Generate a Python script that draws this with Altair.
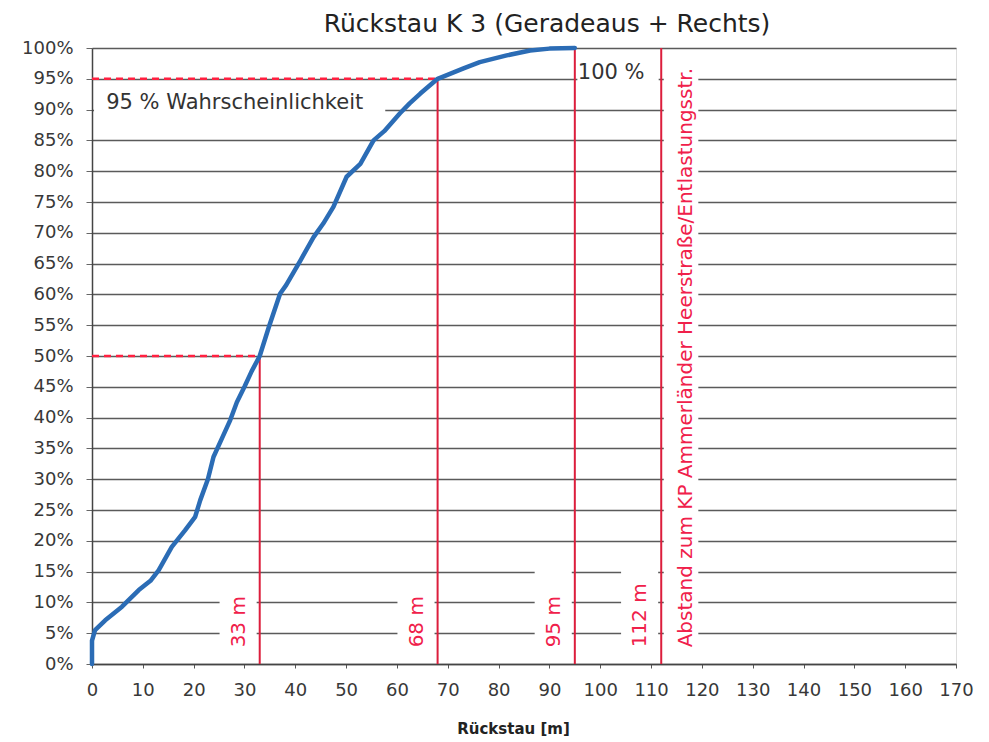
import altair as alt
import pandas as pd

# Cumulative distribution of the queue length (Rückstau)
queue_m = [0, 0, 0.6, 2.6, 5.9, 9.2, 11.5, 13.1, 15.7, 18.3, 20.3, 21.3, 22.8, 23.9,
           25.5, 27.2, 28.5, 30.0, 31.4, 33.0, 34.8, 37.0, 38.2, 41.0, 43.6, 45.5,
           47.5, 50.1, 52.8, 55.4, 57.5, 60.6, 62.5, 64.6, 68.0, 73.1, 76.3, 81.6,
           86.2, 90.0, 95.0]
share_pct = [0, 3.8, 5.5, 7.1, 9.3, 12.0, 13.5, 15.2, 19.0, 21.7, 23.9, 26.6, 30.0, 33.6,
             36.5, 39.6, 42.5, 45.0, 47.5, 50.0, 54.7, 60.1, 61.5, 65.5, 69.3, 71.5,
             74.2, 79.1, 81.2, 85.0, 86.5, 89.4, 91.0, 92.6, 95.0, 96.7, 97.7, 98.8,
             99.6, 99.9, 100.0]

# Reference distances (vertical markers)
marker_m = [33, 68, 95, 112]
marker_top = [50, 95, 100, 100]
marker_label = ["33 m", "68 m", "95 m", "112 m"]
marker_box_top = [13, 13, 16, 16]

# Dashed guides from the y axis to the curve
guide_level = [50, 95]
guide_end = [33, 68]

chart_title = "Rückstau K 3 (Geradeaus + Rechts)"
distance_note = "Abstand zum KP Ammerländer Heerstraße/Entlastungsstr."
prob_note = "95 % Wahrscheinlichkeit"
full_note = "100 %"

x_ticks = list(range(0, 171, 10))
y_ticks = list(range(0, 101, 5))

FONT = "DejaVu Sans"
RED_LINE = "#dc1e3c"
RED_TEXT = "#f0204a"
BLUE = "#2b6cb5"

xs = alt.Scale(domain=[0, 170], nice=False, zero=False)
ys = alt.Scale(domain=[0, 100], nice=False)

x_axis = alt.Axis(values=x_ticks, grid=False, tickSize=4, tickColor="#555",
                  domainColor="#444", domainWidth=1.5, labelFont=FONT,
                  labelFontSize=18, labelColor="#383838", labelPadding=13,
                  labelOverlap=False, labelFlush=False,
                  title="Rückstau [m]", titleFont=FONT, titleFontSize=15,
                  titleFontWeight="bold", titleColor="#222", titleX=421, titleY=69,
                  titleBaseline="alphabetic")
y_axis = alt.Axis(values=y_ticks, grid=True, gridColor="#5a5a5a", gridWidth=1.6,
                  tickSize=6, tickColor="#666", domainColor="#444", domainWidth=1.5,
                  labelFont=FONT, labelFontSize=18, labelColor="#383838",
                  labelPadding=13, labelExpr="datum.value + '%'", title=None,
                  labelOverlap=False, labelFlush=False)


def xq(field):
    return alt.X(field, type="quantitative", scale=xs, axis=x_axis)


def yq(field):
    return alt.Y(field, type="quantitative", scale=ys, axis=y_axis)


curve_df = pd.DataFrame({"m": queue_m, "p": share_pct})
marker_df = pd.DataFrame({"m": marker_m, "top": marker_top, "label": marker_label,
                          "bottom": [0] * len(marker_m),
                          "start": [2.7] * len(marker_m)})
guide_df = pd.DataFrame({"level": guide_level, "end": guide_end,
                         "start": [0] * len(guide_level)})

# White boxes behind the annotations (interrupt the grid lines)
box_x0 = [m - 7.9 for m in marker_m] + [112.5, 0.4, 95.5]
box_x1 = [m - 0.6 for m in marker_m] + [119.3, 57.7, 111.5]
box_y0 = [1.5] * len(marker_m) + [1.5, 88.6, 93.6]
box_y1 = marker_box_top + [97.5, 93.4, 98.3]
box_df = pd.DataFrame({"x0": box_x0, "x1": box_x1, "y0": box_y0, "y1": box_y1})

boxes = alt.Chart(box_df).mark_rect(color="white").encode(
    x=xq("x0"), x2="x1:Q", y=yq("y0"), y2="y1:Q")

verticals = alt.Chart(marker_df).mark_rule(color=RED_LINE, strokeWidth=2).encode(
    x=xq("m"), y=yq("bottom"), y2="top:Q")

guides = alt.Chart(guide_df).mark_rule(color="#ff2040", strokeWidth=2.5,
                                       strokeDash=[7, 5]).encode(
    x=xq("start"), x2="end:Q", y=yq("level"))

curve = alt.Chart(curve_df).mark_line(color=BLUE, strokeWidth=4.5,
                                      strokeJoin="round", strokeCap="round").encode(
    x=xq("m"), y=yq("p"), order="p:Q")

marker_text = alt.Chart(marker_df).mark_text(
    angle=270, align="left", baseline="middle", dy=-21, font=FONT, fontSize=20,
    color=RED_TEXT).encode(x=xq("m"), y=yq("start"), text="label:N")

note_df = pd.DataFrame({"m": [marker_m[-1]], "start": [2.7], "label": [distance_note]})
note_text = alt.Chart(note_df).mark_text(
    angle=270, align="left", baseline="middle", dy=25, font=FONT, fontSize=20,
    color=RED_TEXT).encode(x=xq("m"), y=yq("start"), text="label:N")

black_df = pd.DataFrame({"m": [2.2, 95.0], "p": [91.0, 95.9],
                         "label": [prob_note, full_note]})
black_text = alt.Chart(black_df).mark_text(
    align="left", baseline="middle", dx=3, font=FONT, fontSize=21, color="#333").encode(
    x=xq("m"), y=yq("p"), text="label:N")

# Chart heading, centred above the plot frame
heading = alt.Chart(pd.DataFrame({"t": [chart_title]})).mark_text(
    align="center", baseline="alphabetic", font=FONT, fontSize=25, color="#222").encode(
    x=alt.value(455), y=alt.value(-16), text="t:N")

chart = alt.layer(boxes, verticals, guides, curve, marker_text, note_text,
                  black_text, heading).properties(
    width=864, height=616,
    autosize=alt.AutoSizeParams(type="none"),
    padding={"left": 92, "top": 48, "right": 33, "bottom": 78},
).configure_view(stroke="#999", strokeWidth=1.5).configure(background="white")

chart.save("out.html", embed_options={"renderer": "svg", "actions": False})
